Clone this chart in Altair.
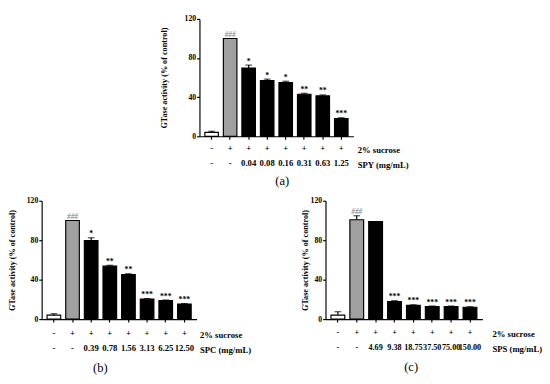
import altair as alt
import pandas as pd

FONT = "Liberation Serif"

# ---------- data ----------
sucrose = ["-", "+", "+", "+", "+", "+", "+", "+"]
kinds = ["control", "sucrose", "sample", "sample", "sample", "sample", "sample", "sample"]

a_conc = ["-", "-", "0.04", "0.08", "0.16", "0.31", "0.63", "1.25"]
a_vals = [4.0, 100.0, 69.8, 57.0, 55.0, 43.0, 41.3, 18.2]
a_errs = [1.2, 0.0, 3.0, 1.5, 1.3, 1.0, 1.0, 0.8]
a_sig = ["", "###", "*", "*", "*", "**", "**", "***"]

b_conc = ["-", "-", "0.39", "0.78", "1.56", "3.13", "6.25", "12.50"]
b_vals = [4.0, 100.0, 79.7, 53.7, 45.2, 20.2, 18.9, 15.3]
b_errs = [1.5, 0.0, 2.8, 0.9, 0.8, 0.6, 0.5, 0.5]
b_sig = ["", "###", "*", "**", "**", "***", "***", "***"]

c_conc = ["-", "-", "4.69", "9.38", "18.75", "37.50", "75.00", "150.00"]
c_vals = [4.0, 100.8, 99.0, 17.9, 14.0, 12.7, 12.7, 12.0]
c_errs = [3.5, 4.0, 0.0, 0.8, 0.5, 0.6, 0.6, 0.6]
c_sig = ["", "###", "", "***", "***", "***", "***", "***"]

y_ticks = [0, 40, 80, 120]
y_title = "GTase activity (% of control)"


def panel(conc, vals, errs, sig, agent, letter, width, height, ytpad, lpad, tx,
          title_dx, title_off, lfs):
    keys = [f"{s}|{c}" for s, c in zip(sucrose, conc)]
    df = pd.DataFrame({"key": keys, "val": vals, "err": errs, "sig": sig, "kind": kinds})
    base = alt.Chart(df).transform_calculate(top="datum.val + datum.err")
    x = alt.X(
        "key:N", sort=keys,
        scale=alt.Scale(paddingInner=0.27, paddingOuter=0.29),
        axis=alt.Axis(
            labelExpr="split(datum.label, '|')", labelAngle=0,
            labelFont=FONT, labelFontSize=lfs, labelFontWeight="bold", labelColor="black",
            labelLineHeight=15.5, labelBaseline="top", labelPadding=lpad,
            labelOverlap=False, labelBound=False,
            tickSize=3, tickColor="black", tickWidth=1.2,
            domainColor="black", domainWidth=1.2,
            title=["2% sucrose", agent], titleX=tx, titleY=lpad + 3 + 9,
            titleAlign="left", titleBaseline="alphabetic", titleLineHeight=15.5,
            titleFont=FONT, titleFontSize=9, titleFontWeight="bold", titleColor="black",
        ),
    )
    y = alt.Y(
        "val:Q",
        scale=alt.Scale(domain=[0, 120], nice=False),
        axis=alt.Axis(
            values=y_ticks, grid=False,
            labelFont=FONT, labelFontSize=8, labelFontWeight="bold", labelColor="black",
            labelPadding=1, tickSize=3, tickColor="black", tickWidth=1.2,
            domainColor="black", domainWidth=1.2,
            title=y_title, titleFont=FONT, titleFontSize=8.5, titleFontWeight="bold",
            titleColor="black", titlePadding=ytpad,
        ),
    )
    bars = base.mark_bar(stroke="black", strokeWidth=1.2).encode(
        x=x, y=y,
        fill=alt.Fill("kind:N", scale=alt.Scale(domain=["control", "sucrose", "sample"],
                                                 range=["white", "#a0a0a0", "black"]), legend=None),
    )
    errbar = base.transform_filter("datum.err > 0").mark_rule(color="black", strokeWidth=1.2).encode(
        x=x, y="val:Q", y2="top:Q")
    cap = base.transform_filter("datum.err > 0").mark_tick(color="black", size=7, thickness=1.2).encode(
        x=x, y="top:Q")
    stars = base.transform_filter("datum.sig != '' && datum.sig != '###'").mark_text(
        font=FONT, fontSize=8, fontWeight="bold", baseline="alphabetic", dy=-1.5, color="black"
    ).encode(x=x, y="top:Q", text="sig:N")
    hashes = base.transform_filter("datum.sig == '###'").mark_text(
        font=FONT, fontSize=7.5, fontStyle="italic", baseline="alphabetic", dy=-2, color="#777777"
    ).encode(x=x, y="top:Q", text="sig:N")
    return alt.layer(bars, errbar, cap, stars, hashes).properties(
        width=width, height=height,
        title=alt.TitleParams(letter, orient="bottom", font=FONT, fontSize=13, fontWeight="normal",
                              color="black", frame="group", anchor="middle", dx=title_dx, offset=title_off),
    )


pa = panel(a_conc, a_vals, a_errs, a_sig, "SPY (mg/mL)", "(a)", 160, 122, 16, 5.0, 164, 6, 6, 9)
pb = panel(b_conc, b_vals, b_errs, b_sig, "SPC (mg/mL)", "(b)", 161, 123, 10, 7.5, 164, -19.5, 8, 9)
pc = panel(c_conc, c_vals, c_errs, c_sig, "\u00a0\u00a0\u00a0SPS (mg/mL)", "(c)", 163, 123, 1, 6.0, 173, 7.5, 8, 8.5)

spacer = alt.Chart(pd.DataFrame({"v": [0]})).mark_point(size=0, opacity=0).encode(
    x=alt.value(1), y=alt.value(1)).properties(width=123, height=2)

top = alt.hconcat(spacer, pa, spacing=0)
bottom = alt.hconcat(pb, pc, spacing=51)
chart = alt.vconcat(top, bottom, spacing=9).properties(padding=0, background="white").configure_view(
    stroke=None).configure_concat(spacing=0)

chart.save("out.html", embed_options={"renderer": "svg", "actions": False})
